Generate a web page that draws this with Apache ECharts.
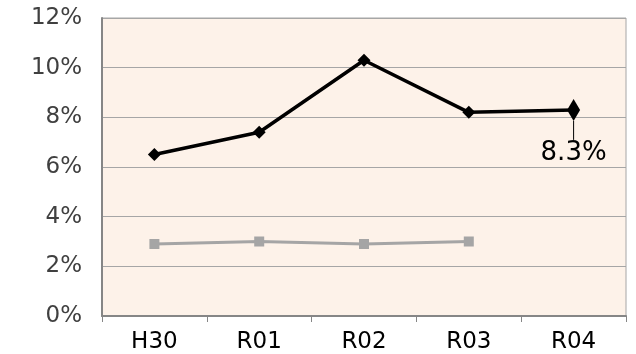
<!DOCTYPE html>
<html>
<head>
<meta charset="utf-8">
<script src="https://cdn.jsdelivr.net/npm/echarts@6/dist/echarts.min.js"></script>
<style>
  html, body { margin: 0; padding: 0; background: #ffffff; }
  #chart { width: 636px; height: 354px; }
</style>
</head>
<body>
<div id="chart"></div>
<script>
// Fiscal years on the x axis
const categories = ['H30', 'R01', 'R02', 'R03', 'R04'];
// Rates in percent
const mainRate = [6.5, 7.4, 10.3, 8.2, 8.3];
const compareRate = [2.9, 3.0, 2.9, 3.0, null];
// Y axis range (percent)
const yMin = 0, yMax = 12, yStep = 2;

const fontFamily = 'DejaVu Sans';
const chart = echarts.init(document.getElementById('chart'), null, { renderer: 'canvas' });

const lastIdx = mainRate.length - 1;
const mainData = mainRate.map((v, i) => {
  if (i !== lastIdx) return v;
  return {
    value: v,
    symbolSize: [13, 22],
    label: {
      show: true,
      position: 'bottom',
      distance: 19,
      formatter: p => p.value.toFixed(1) + '%',
      color: '#000000',
      fontSize: 26,
      fontFamily: fontFamily
    },
    labelLine: { show: true, length2: 0, lineStyle: { color: '#000', width: 1 } }
  };
});

chart.setOption({
  animation: false,
  textStyle: { fontFamily: fontFamily },
  grid: { left: 102, right: 10, top: 18, bottom: 38, show: true, backgroundColor: '#FDF2E9', borderColor: '#A6A6A6', borderWidth: 1 },
  xAxis: {
    type: 'category',
    data: categories,
    boundaryGap: true,
    axisLine: { lineStyle: { color: '#868686', width: 2 } },
    axisTick: { show: true, length: 6, lineStyle: { color: '#868686', width: 1 } },
    axisLabel: { color: '#000000', fontSize: 23, fontFamily: fontFamily, margin: 15 }
  },
  yAxis: {
    type: 'value',
    min: yMin, max: yMax, interval: yStep,
    axisLine: { show: true, lineStyle: { color: '#868686', width: 2 } },
    axisTick: { show: false },
    splitLine: { lineStyle: { color: '#A6A6A6', width: 1 } },
    axisLabel: { color: '#404040', fontSize: 23, fontFamily: fontFamily, margin: 20, formatter: v => v + '%' }
  },
  series: [
    {
      type: 'line',
      data: compareRate,
      symbol: 'rect',
      symbolSize: 10,
      itemStyle: { color: '#A5A5A5' },
      lineStyle: { color: '#A5A5A5', width: 3 },
      z: 2
    },
    {
      type: 'line',
      data: mainData,
      symbol: 'diamond',
      symbolSize: 13,
      itemStyle: { color: '#000000' },
      lineStyle: { color: '#000000', width: 3.5 },
      labelLayout: { dy: 0 },
      z: 3
    }
  ]
});
</script>
</body>
</html>
